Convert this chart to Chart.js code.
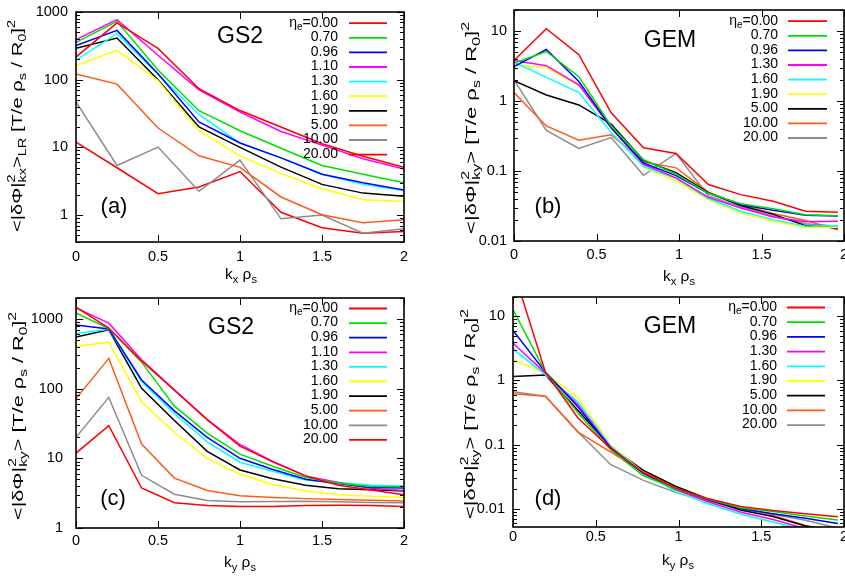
<!DOCTYPE html>
<html>
<head>
<meta charset="utf-8">
<script src="https://cdn.jsdelivr.net/npm/chart.js@4.4.1/dist/chart.umd.min.js"></script>
<style>
  body { margin: 0; background: #fff; }
  #wrap { position: relative; width: 845px; height: 577px; overflow: hidden; }
  canvas { position: absolute; }
</style>
</head>
<body>
<div id="wrap">
  <canvas id="pa" width="422" height="288" style="left:0;top:0"></canvas>
  <canvas id="pb" width="423" height="288" style="left:422px;top:0"></canvas>
  <canvas id="pc" width="422" height="289" style="left:0;top:288px"></canvas>
  <canvas id="pd" width="423" height="289" style="left:422px;top:288px"></canvas>
</div>
<script>
// eta_e values of the runs, one line each
const etaGS2 = ['0.00', '0.70', '0.96', '1.10', '1.30', '1.60', '1.90', '5.00', '10.00', '20.00'];
const etaGEM = ['0.00', '0.70', '0.96', '1.30', '1.60', '1.90', '5.00', '10.00', '20.00'];
const colGS2 = ['#ff0000', '#00e000', '#0000ff', '#ff00ff', '#00ffff', '#ffff00', '#000000', '#ff5a1a', '#8c8c8c', '#ff0000'];
const colGEM = ['#ff0000', '#00e000', '#0000ff', '#ff00ff', '#00ffff', '#ffff00', '#000000', '#ff5a1a', '#8c8c8c'];

const xTicks = [0, 0.5, 1, 1.5, 2];

// (a) GS2, kx spectrum
const kxGS2 = [0, 0.25, 0.5, 0.75, 1, 1.25, 1.5, 1.75, 2];
const phiA = [
  [216, 690, 290, 73.6, 35, 20, 11.3, 7.4, 5.1],
  [355, 728, 139, 34.8, 17.6, 9.7, 5.4, 4.0, 3.0],
  [320, 535, 122, 23.7, 11.6, 7.0, 4.0, 3.0, 2.35],
  [390, 770, 230, 71, 33.3, 17.2, 10.8, 6.8, 4.8],
  [195, 478, 120, 30.4, 11.6, 7.0, 4.0, 2.84, 2.3],
  [162, 271, 97, 17.6, 7.5, 4.1, 2.45, 1.69, 1.58],
  [290, 413, 100, 20, 10, 5.1, 2.84, 2.11, 1.9],
  [121, 86, 19.3, 7.5, 5.06, 1.85, 1.01, 0.77, 0.85],
  [47, 5.4, 10.1, 2.24, 6.5, 0.88, 1.0, 0.54, 0.63],
  [12, 5.0, 2.07, 2.6, 4.4, 1.1, 0.65, 0.54, 0.57]
];
const yTicksA = [1, 10, 100, 1000];

// (b) GEM, kx spectrum
const kxGEM = [0, 0.196, 0.393, 0.589, 0.785, 0.982, 1.178, 1.374, 1.571, 1.767, 1.963];
const phiB = [
  [3.8, 10.8, 4.6, 0.68, 0.215, 0.178, 0.064, 0.046, 0.037, 0.0266, 0.0258],
  [3.5, 5.1, 2.23, 0.44, 0.145, 0.09, 0.048, 0.034, 0.029, 0.0238, 0.023],
  [3.1, 5.45, 1.9, 0.42, 0.13, 0.086, 0.048, 0.033, 0.0275, 0.0233, 0.0228],
  [3.8, 3.2, 1.71, 0.41, 0.124, 0.08, 0.042, 0.0297, 0.0221, 0.0189, 0.0191],
  [3.6, 2.18, 1.33, 0.354, 0.117, 0.078, 0.0405, 0.0266, 0.0202, 0.0162, 0.0165],
  [3.3, 3.04, 1.66, 0.44, 0.114, 0.072, 0.039, 0.025, 0.0191, 0.0157, 0.0157],
  [1.95, 1.22, 0.88, 0.47, 0.142, 0.095, 0.049, 0.032, 0.024, 0.0166, 0.0153],
  [1.32, 0.44, 0.275, 0.33, 0.135, 0.111, 0.05, 0.033, 0.0247, 0.0197, 0.0145],
  [2.0, 0.38, 0.21, 0.30, 0.087, 0.178, 0.044, 0.031, 0.0226, 0.0177, 0.0162]
];
const yTicksB = [0.01, 0.1, 1, 10];

// (c) GS2, ky spectrum
const kyGS2 = [0, 0.2, 0.4, 0.6, 0.8, 1.0, 1.2, 1.4, 1.6, 1.8, 2.0];
const phiC = [
  [1480, 740, 250, 95, 36, 15, 8.9, 5.6, 4.1, 3.5, 3.0],
  [1220, 730, 240, 56, 23, 11.5, 7.7, 5.3, 4.4, 3.95, 3.9],
  [820, 720, 133, 48, 20, 10, 6.9, 5.0, 4.3, 3.8, 3.75],
  [1440, 870, 260, 96, 36, 15.8, 9.0, 5.6, 4.5, 3.7, 3.45],
  [620, 710, 127, 44, 17.2, 8.8, 6.5, 4.9, 4.5, 4.1, 4.0],
  [405, 465, 65, 23.5, 10, 5.9, 4.2, 3.4, 3.0, 2.85, 2.75],
  [550, 700, 101, 35, 12.6, 6.8, 5.1, 4.1, 3.65, 3.55, 3.4],
  [72, 272, 16, 5.2, 3.45, 2.9, 2.75, 2.64, 2.56, 2.5, 2.45],
  [20, 75, 5.7, 3.05, 2.48, 2.38, 2.4, 2.42, 2.38, 2.33, 2.3],
  [11.9, 29.5, 3.75, 2.3, 2.1, 2.03, 2.03, 2.1, 2.12, 2.1, 2.03]
];
const yTicksC = [1, 10, 100, 1000];

// (d) GEM, ky spectrum
const kyGEM = [0, 0.196, 0.393, 0.589, 0.785, 0.982, 1.178, 1.374, 1.571, 1.767, 1.963];
const phiD = [
  [55, 1.35, 0.26, 0.087, 0.037, 0.021, 0.0143, 0.0109, 0.0094, 0.0084, 0.0075],
  [12.7, 1.35, 0.31, 0.084, 0.033, 0.0205, 0.0142, 0.0104, 0.0091, 0.0077, 0.0067],
  [6.0, 1.35, 0.385, 0.089, 0.036, 0.0205, 0.0138, 0.0101, 0.0084, 0.0071, 0.0059],
  [3.8, 1.3, 0.42, 0.091, 0.036, 0.020, 0.0129, 0.0089, 0.0068, 0.0049, 0.0040],
  [3.1, 1.22, 0.46, 0.095, 0.037, 0.0185, 0.012, 0.0083, 0.0062, 0.0046, 0.0036],
  [2.1, 1.3, 0.54, 0.10, 0.037, 0.0195, 0.0123, 0.0083, 0.0062, 0.0046, 0.0036],
  [1.15, 1.22, 0.34, 0.093, 0.040, 0.0225, 0.0141, 0.0096, 0.0076, 0.0054, 0.0043],
  [0.62, 0.57, 0.157, 0.077, 0.038, 0.022, 0.0143, 0.0108, 0.0079, 0.0055, 0.0043],
  [0.67, 0.57, 0.157, 0.049, 0.028, 0.018, 0.0132, 0.0099, 0.0082, 0.0066, 0.0050]
];
const yTicksD = [0.01, 0.1, 1, 10];

const FONT = '"Liberation Sans", Arial, Helvetica, sans-serif';

// rich text: s=1 superscript, s=-1 subscript, k=stack next part on same x
function layoutRich(ctx, parts, size) {
  let x = 0, hold = 0;
  const items = [];
  for (const p of parts) {
    const fs = p.s ? size * 0.72 : size;
    ctx.font = fs + 'px ' + FONT;
    const w = ctx.measureText(p.t).width;
    items.push({ t: p.t, x: x, fs: fs, dy: p.s === 1 ? -size * 0.42 : (p.s === -1 ? size * 0.32 : 0) });
    if (p.k) hold = Math.max(hold, w);
    else { x += Math.max(w, hold); hold = 0; }
  }
  return { items: items, width: x + hold };
}
// len: stretch the run of text along its direction to that length
function drawRich(ctx, parts, x, y, size, align, rot, len) {
  const L = layoutRich(ctx, parts, size);
  ctx.save();
  ctx.translate(x, y);
  if (rot) ctx.rotate(rot);
  if (len) ctx.scale(len / L.width, 1);
  const x0 = align === 'center' ? -L.width / 2 : (align === 'right' ? -L.width : 0);
  ctx.fillStyle = '#000';
  ctx.textBaseline = 'middle';
  ctx.textAlign = 'left';
  for (const it of L.items) {
    ctx.font = it.fs + 'px ' + FONT;
    ctx.fillText(it.t, x0 + it.x, it.dy);
  }
  ctx.restore();
}

const decor = {
  id: 'decor',
  afterDraw(chart, args, o) {
    const ctx = chart.ctx, a = chart.chartArea;
    const sx = chart.scales.x, sy = chart.scales.y;
    ctx.save();
    // tick marks, pointing inwards on all four sides
    ctx.strokeStyle = '#000';
    ctx.lineWidth = 1;
    ctx.beginPath();
    for (const v of xTicks) {
      const px = Math.round(sx.getPixelForValue(v)) + 0.5;
      ctx.moveTo(px, a.bottom); ctx.lineTo(px, a.bottom - 7);
      ctx.moveTo(px, a.top); ctx.lineTo(px, a.top + 7);
    }
    const e0 = Math.floor(Math.log10(sy.min)), e1 = Math.ceil(Math.log10(sy.max));
    for (let e = e0; e <= e1; e++) {
      for (let m = 1; m <= 9; m++) {
        const v = m * Math.pow(10, e);
        if (v < sy.min * 0.999 || v > sy.max * 1.001) continue;
        const py = Math.round(sy.getPixelForValue(v)) + 0.5;
        const len = m === 1 ? 7 : 4;
        ctx.moveTo(a.left, py); ctx.lineTo(a.left + len, py);
        ctx.moveTo(a.right, py); ctx.lineTo(a.right - len, py);
      }
    }
    ctx.stroke();
    ctx.lineWidth = 1.6;
    ctx.strokeRect(a.left, a.top, a.right - a.left, a.bottom - a.top);

    // legend inside the frame
    chart.data.datasets.forEach((ds, i) => {
      const y = o.legY + i * o.legDy;
      const parts = i === 0
        ? [{ t: 'η' }, { t: 'e', s: -1 }, { t: '=' + ds.label }]
        : [{ t: ds.label }];
      drawRich(ctx, parts, o.legText, y, 14, 'right');
      ctx.strokeStyle = ds.borderColor;
      ctx.lineWidth = 1.8;
      ctx.beginPath();
      ctx.moveTo(o.legL1, y + 0.5); ctx.lineTo(o.legL2, y + 0.5);
      ctx.stroke();
    });

    ctx.fillStyle = '#000';
    ctx.textAlign = 'center';
    ctx.textBaseline = 'middle';
    ctx.font = '23px ' + FONT;
    ctx.fillText(o.code, o.codeX, o.codeY);
    ctx.font = '22px ' + FONT;
    ctx.fillText(o.tag, o.tagX, o.tagY);

    drawRich(ctx, o.xTitle, o.xtX, o.xtY, 14.5, 'center', 0, 32);
    drawRich(ctx, o.yTitle, o.ytX, o.ytY, 15.5, 'center', -Math.PI / 2, o.ytLen);
    ctx.restore();
  }
};

const yTitleKx = [{ t: '<|δΦ|' }, { t: '2', s: 1, k: 1 }, { t: 'kx', s: -1 }, { t: '>' }, { t: 'LR', s: -1 },
  { t: ' [T/e ρ' }, { t: 's', s: -1 }, { t: ' / R' }, { t: '0', s: -1 }, { t: ']' }, { t: '2', s: 1 }];
const yTitleKy = [{ t: '<|δΦ|' }, { t: '2', s: 1, k: 1 }, { t: 'ky', s: -1 }, { t: '>' },
  { t: ' [T/e ρ' }, { t: 's', s: -1 }, { t: ' / R' }, { t: '0', s: -1 }, { t: ']' }, { t: '2', s: 1 }];
const xTitleKx = [{ t: 'k' }, { t: 'x', s: -1 }, { t: ' ρ' }, { t: 's', s: -1 }];
const xTitleKy = [{ t: 'k' }, { t: 'y', s: -1 }, { t: ' ρ' }, { t: 's', s: -1 }];

function makePanel(id, box, xs, rows, labels, colors, yMin, yMax, yTicks, deco) {
  const datasets = rows.map((r, i) => ({
    label: labels[i],
    data: r.map((v, j) => ({ x: xs[j], y: v })),
    borderColor: colors[i],
    borderWidth: 1.5,
    pointRadius: 0,
    fill: false,
    tension: 0
  }));
  const tickFont = { family: FONT, size: 14.5 };
  return new Chart(document.getElementById(id), {
    type: 'line',
    data: { datasets: datasets },
    plugins: [decor],
    options: {
      responsive: false,
      animation: false,
      devicePixelRatio: 1,
      layout: { autoPadding: false, padding: { left: 0, top: box.top, right: box.w - box.right, bottom: 0 } },
      plugins: { legend: { display: false }, tooltip: { enabled: false }, decor: deco },
      scales: {
        x: {
          type: 'linear', min: 0, max: 2,
          grid: { display: false, drawTicks: false },
          border: { display: false },
          afterBuildTicks: s => { s.ticks = xTicks.map(v => ({ value: v })); },
          afterFit: s => { s.height = box.h - box.bottom; s.paddingLeft = 0; s.paddingRight = 0; },
          ticks: { padding: box.xPad, font: tickFont, color: '#000', autoSkip: false, maxRotation: 0, callback: v => String(v) }
        },
        y: {
          type: 'logarithmic', min: yMin, max: yMax,
          grid: { display: false, drawTicks: false },
          border: { display: false },
          afterBuildTicks: s => { s.ticks = yTicks.map(v => ({ value: v })); },
          afterFit: s => { s.width = box.left; s.paddingTop = 0; s.paddingBottom = 0; },
          ticks: { padding: box.yPad, font: tickFont, color: '#000', autoSkip: false, callback: v => String(v) }
        }
      }
    }
  });
}

makePanel('pa', { w: 422, h: 288, left: 76, top: 12, right: 404, bottom: 242, xPad: 6, yPad: 8 },
  kxGS2, phiA, etaGS2, colGS2, 0.4, 1000, yTicksA,
  { legY: 22.7, legDy: 14.6, legText: 338, legL1: 349, legL2: 387,
    code: 'GS2', codeX: 240, codeY: 37, tag: '(a)', tagX: 114, tagY: 207,
    xTitle: xTitleKx, xtX: 241, xtY: 275, yTitle: yTitleKx, ytX: 18, ytY: 126, ytLen: 212 });

makePanel('pb', { w: 423, h: 288, left: 92, top: 10, right: 422, bottom: 241, xPad: 5, yPad: 7 },
  kxGEM, phiB, etaGEM, colGEM, 0.01, 20, yTicksB,
  { legY: 20.7, legDy: 14.6, legText: 356, legL1: 366, legL2: 405,
    code: 'GEM', codeX: 248, codeY: 41, tag: '(b)', tagX: 126, tagY: 207,
    xTitle: xTitleKx, xtX: 257, xtY: 277, yTitle: yTitleKy, ytX: 50, ytY: 128, ytLen: 212 });

makePanel('pc', { w: 422, h: 289, left: 76, top: 10, right: 404, bottom: 240, xPad: 4, yPad: 13 },
  kyGS2, phiC, etaGS2, colGS2, 1, 2000, yTicksC,
  { legY: 20, legDy: 14.6, legText: 338, legL1: 349, legL2: 387,
    code: 'GS2', codeX: 231, codeY: 40, tag: '(c)', tagX: 113, tagY: 211,
    xTitle: xTitleKy, xtX: 240, xtY: 275, yTitle: yTitleKy, ytX: 19, ytY: 128, ytLen: 208 });

makePanel('pd', { w: 423, h: 289, left: 91, top: 9, right: 422, bottom: 239, xPad: 1, yPad: 8 },
  kyGEM, phiD, etaGEM, colGEM, 0.0052, 20, yTicksD,
  { legY: 19, legDy: 14.7, legText: 355, legL1: 365, legL2: 403,
    code: 'GEM', codeX: 248, codeY: 39, tag: '(d)', tagX: 126, tagY: 211,
    xTitle: xTitleKy, xtX: 256, xtY: 273, yTitle: yTitleKy, ytX: 49, ytY: 126, ytLen: 210 });
</script>
</body>
</html>
